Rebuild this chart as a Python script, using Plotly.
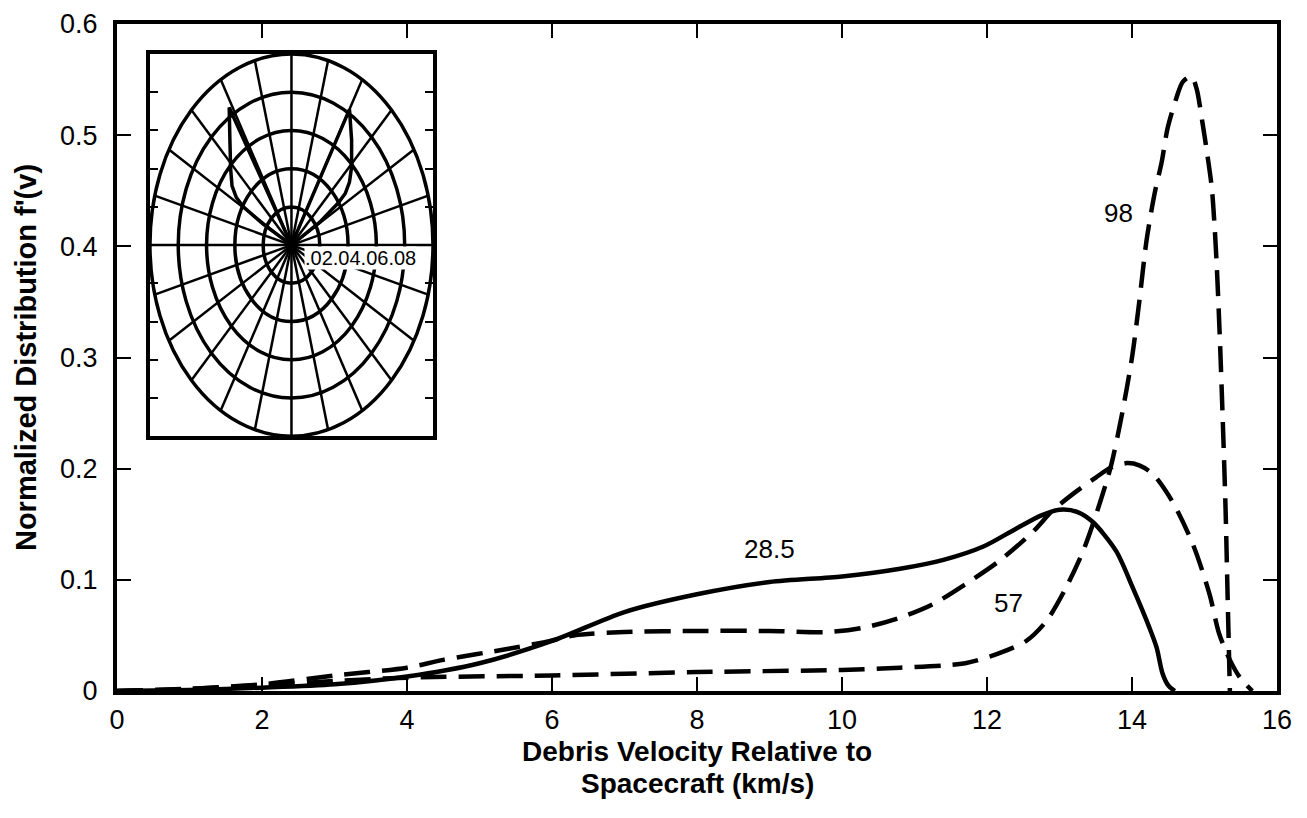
import math
import plotly.graph_objects as go

# Normalized velocity distribution f'(v) for three orbit inclinations (deg)
v_285 = [0.0, 1.0, 2.0, 3.0, 4.0, 5.0, 6.0, 7.0, 8.0, 9.0, 10.0, 10.8,
         11.4, 11.95, 12.4, 12.75, 13.0, 13.25, 13.46, 13.78, 14.01, 14.24, 14.34,
         14.42, 14.5, 14.59]
f_285 = [0.0, 0.001, 0.003, 0.006, 0.013, 0.025, 0.045, 0.071, 0.087,
         0.098, 0.103, 0.110, 0.118, 0.130, 0.146, 0.158, 0.163, 0.161, 0.152, 0.126,
         0.093, 0.057, 0.039, 0.016, 0.005, 0.0]

v_57 = [0.0, 1.0, 2.0, 3.0, 4.0, 4.5, 5.4, 5.9, 6.3, 7.0, 8.0, 9.0, 9.8, 10.3, 10.8,
        11.25, 11.7, 12.17, 12.63, 12.9, 13.2, 13.5, 13.71, 13.93, 14.1, 14.29, 14.56,
        14.84, 15.07, 15.2, 15.35, 15.49, 15.66]
f_57 = [0.0, 0.002, 0.006, 0.014, 0.021, 0.028, 0.038, 0.044, 0.050, 0.053, 0.054,
        0.054, 0.053, 0.057, 0.066, 0.078, 0.096, 0.117, 0.143, 0.162, 0.178, 0.192,
        0.201, 0.205, 0.203, 0.195, 0.170, 0.132, 0.087, 0.052, 0.028, 0.012, 0.0]

v_98 = [0.0, 1.0, 2.0, 3.0, 4.0, 6.0, 8.0, 10.0, 10.8, 11.7, 12.17, 12.54, 12.82, 13.09,
        13.32, 13.46, 13.7, 13.85, 14.0, 14.1, 14.2, 14.31, 14.41, 14.49, 14.61, 14.7,
        14.82, 14.89, 14.97, 15.04, 15.1, 15.14, 15.17, 15.21, 15.25, 15.29, 15.32, 15.35]
f_98 = [0.0, 0.002, 0.005, 0.009, 0.012, 0.014, 0.017, 0.019, 0.021, 0.025, 0.034, 0.045,
        0.063, 0.093, 0.125, 0.150, 0.200, 0.245, 0.300, 0.350, 0.405, 0.447, 0.476,
        0.506, 0.533, 0.548, 0.553, 0.542, 0.512, 0.482, 0.453, 0.417, 0.381, 0.320,
        0.247, 0.165, 0.082, 0.0]

# curve labels (inclination) and where they sit
labels = ["28.5", "57", "98"]
label_v = [9.0, 12.3, 13.82]
label_f = [0.128, 0.079, 0.43]

# inset: directional pattern, two lobes (x/y in the inset's polar-grid units)
lobe_l_x = [0.0, -0.044, -0.0435, -0.043, -0.042, -0.039, -0.034, -0.02, 0.0]
lobe_l_y = [0.0, 0.072, 0.055, 0.040, 0.031, 0.025, 0.020, 0.011, 0.0]
lobe_r_x = [0.0, 0.041, 0.0425, 0.0425, 0.041, 0.038, 0.033, 0.02, 0.0]
lobe_r_y = [0.0, 0.071, 0.055, 0.041, 0.033, 0.027, 0.022, 0.012, 0.0]
ring_r = [0.02, 0.04, 0.06, 0.08, 0.10]
spoke_deg = list(range(0, 360, 15))
inset_ticks = [-0.08, -0.06, -0.04, -0.02, 0.02, 0.04, 0.06, 0.08]

FONT = "Liberation Sans, Arial, Helvetica, sans-serif"
DASH = "26px,12px"
LW = 4.5

fig = go.Figure()
fig.add_trace(go.Scatter(x=v_285, y=f_285, mode="lines",
                         line=dict(color="black", width=LW, shape="spline", smoothing=0.8),
                         showlegend=False))
fig.add_trace(go.Scatter(x=v_57, y=f_57, mode="lines",
                         line=dict(color="black", width=LW, dash=DASH, shape="spline", smoothing=0.8),
                         showlegend=False))
fig.add_trace(go.Scatter(x=v_98, y=f_98, mode="lines",
                         line=dict(color="black", width=LW, dash=DASH, shape="spline", smoothing=0.8),
                         showlegend=False))

for t, xv, yv in zip(labels, label_v, label_f):
    fig.add_annotation(x=xv, y=yv, text=t, showarrow=False,
                       font=dict(family=FONT, size=26, color="black"))

# inset lobes
for lx, ly in [(lobe_l_x, lobe_l_y), (lobe_r_x, lobe_r_y)]:
    fig.add_trace(go.Scatter(x=lx, y=ly, xaxis="x2", yaxis="y2", mode="lines",
                             line=dict(color="black", width=3.5), showlegend=False))

# polar grid of the inset: rings and 15-degree spokes
shapes = []
for r in ring_r:
    shapes.append(dict(type="circle", xref="x2", yref="y2", x0=-r, x1=r, y0=-r, y1=r,
                       line=dict(color="black", width=3.5)))
R = ring_r[-1]
for d in spoke_deg:
    a = math.radians(d)
    shapes.append(dict(type="line", xref="x2", yref="y2", x0=0, y0=0,
                       x1=R * math.cos(a), y1=R * math.sin(a),
                       line=dict(color="black", width=2.5)))
fig.update_layout(shapes=shapes)

fig.add_annotation(x=0.009, y=-0.0005, xref="x2", yref="y2", text=".02.04.06.08",
                   showarrow=False, xanchor="left", yanchor="top", bgcolor="white",
                   borderpad=0, font=dict(family=FONT, size=20, color="black"))

# x-axis title, two lines set as annotations for tighter line spacing
for txt, shift in [("<b>Debris Velocity Relative to</b>", -60), ("<b>Spacecraft (km/s)</b>", -92)]:
    fig.add_annotation(x=0.5, y=0, xref="paper", yref="paper", text=txt, showarrow=False,
                       xanchor="center", yanchor="middle", yshift=shift,
                       font=dict(family=FONT, size=28, color="black"))

# page body adds an 8px margin, so the figure is 16px smaller than the window
fig.update_layout(
    width=1291, height=802,
    margin=dict(l=109, r=22, t=16, b=119),
    plot_bgcolor="white", paper_bgcolor="white",
    font=dict(family=FONT, color="black"),
    xaxis=dict(range=[0, 16], tickvals=list(range(0, 17, 2)), ticks="inside", ticklen=14,
               tickwidth=2, tickcolor="black", showline=True, linewidth=4, linecolor="black",
               mirror="ticks", showgrid=False, zeroline=False, ticklabeloverflow="allow",
               automargin=False, tickfont=dict(size=27), ticklabelstandoff=2),
    yaxis=dict(range=[0, 0.6], tickvals=[0, 0.1, 0.2, 0.3, 0.4, 0.5, 0.6],
               ticktext=["0", "0.1", "0.2", "0.3", "0.4", "0.5", "0.6"],
               ticks="inside", ticklen=14, tickwidth=2, tickcolor="black",
               showline=True, linewidth=4, linecolor="black", mirror="ticks",
               showgrid=False, zeroline=False, tickfont=dict(size=27), ticklabelstandoff=10,
               ticklabeloverflow="allow", automargin=False,
               title=dict(text="<b>Normalized Distribution f'(v)</b>", font=dict(size=29),
                          standoff=16)),
    xaxis2=dict(domain=[0.0284, 0.2724], anchor="y2", range=[-0.1, 0.1], showline=True,
                linewidth=3.5, linecolor="black", mirror=True, ticks="", showticklabels=False,
                showgrid=False, zeroline=False),
    yaxis2=dict(domain=[0.382, 0.955], anchor="x2", range=[-0.1, 0.1], showline=True,
                linewidth=3.5, linecolor="black", mirror="ticks", ticks="inside", ticklen=8,
                tickwidth=2, tickcolor="black", tickvals=inset_ticks, showticklabels=False,
                showgrid=False, zeroline=False),
)

fig.write_html("out.html")
